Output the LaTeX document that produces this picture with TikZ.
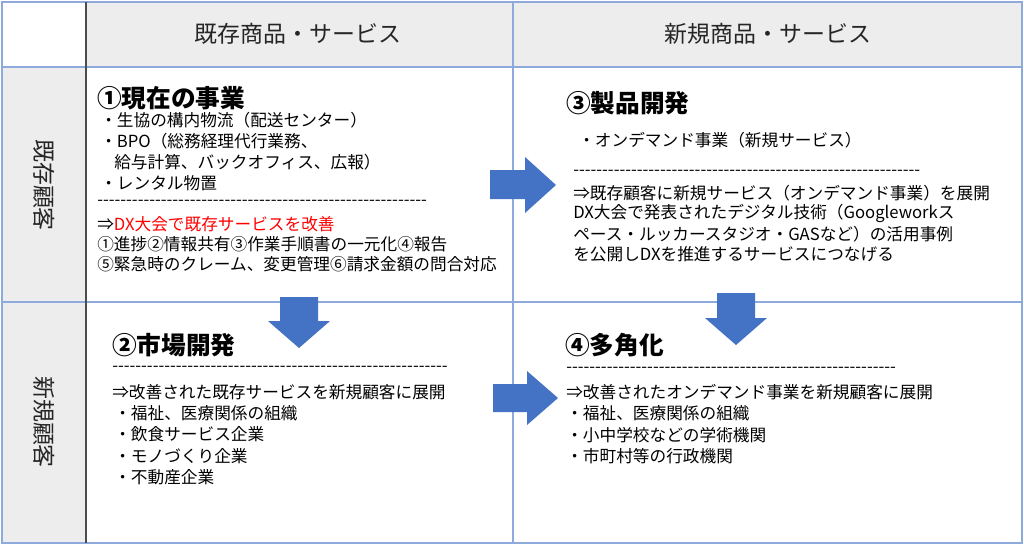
\documentclass[tikz,border=0pt]{standalone}
\usepackage{fontspec}
\setmainfont{Noto Sans CJK JP}[Ligatures=TeXOff]
\definecolor{bl}{HTML}{4472C4}
\definecolor{gr}{HTML}{EDEDED}
\definecolor{ln}{HTML}{8EA9DB}
\begin{document}
\begin{tikzpicture}[x=0.75pt,y=-0.75pt,
  txt/.style={anchor=west,inner sep=0pt,font=\fontsize{12.5}{14}\selectfont},
  ttl/.style={anchor=west,inner sep=0pt,font=\fontsize{18.5}{21}\selectfont\bfseries},
  hdr/.style={inner sep=0pt,font=\fontsize{17.2}{20}\selectfont,text=black!85},
  arr/.style={fill=bl,draw=none}]
\useasboundingbox (0,0) rectangle (1024,546);
\fill[white] (0,0) rectangle (1024,546);
\fill[gr] (86,2) rectangle (1022,67);
\fill[gr] (2,67) rectangle (86,543);
\draw[ln,line width=0.8pt] (2,2) rectangle (1022,543);
\draw[ln,line width=0.8pt] (2,67) -- (1022,67);
\draw[ln,line width=0.8pt] (2,302) -- (1022,302);
\draw[ln,line width=0.8pt] (513,2) -- (513,543);
\draw[black!70,line width=0.8pt] (86,2) -- (86,543);
\node[hdr] (h1) at (298,34) {既存商品・サービス};
\node[hdr] (h2) at (768,34) {新規商品・サービス};
\node[hdr,rotate=-90] (v1) at (44,185) {既存顧客};
\node[hdr,rotate=-90] (v2) at (44,422) {新規顧客};
% arrows
\path[arr] (490,170) -- (525,170) -- (525,157) -- (556,185) -- (525,213) -- (525,199) -- (490,199) -- cycle;
\path[arr] (493,384) -- (527,384) -- (527,371) -- (558,398) -- (527,425) -- (527,412) -- (493,412) -- cycle;
\path[arr] (280,297) -- (318,297) -- (318,321) -- (330,321) -- (299,348) -- (268,321) -- (280,321) -- cycle;
\path[arr] (717,293) -- (755,293) -- (755,318) -- (767,318) -- (736,345) -- (705,318) -- (717,318) -- cycle;
% Q1
\node[ttl] (t1) at (97,98) {①現在の事業};
\node[txt] (a1) at (100,120) {・生協の構内物流（配送センター）};
\node[txt] (a2) at (100,141) {・BPO（総務経理代行業務、};
\node[txt] (a3) at (114,162) {給与計算、バックオフィス、広報）};
\node[txt] (a4) at (100,183) {・レンタル物置};
\node[txt] (a5) at (97,203) {---------------------------------------------------------};
\node[txt,text=red] (a6) at (97,224) {\textcolor{black}{⇒}DX大会で既存サービスを改善};
\node[txt] (a7) at (97,244) {①進捗②情報共有③作業手順書の一元化④報告};
\node[txt] (a8) at (97,264) {⑤緊急時のクレーム、変更管理⑥請求金額の問合対応};
% Q3
\node[ttl] (t3) at (566,103) {③製品開発};
\node[txt] (c1) at (578,140) {・オンデマンド事業（新規サービス）};
\node[txt] (c2) at (573,173) {------------------------------------------------------------};
\node[txt] (c3) at (573,193) {⇒既存顧客に新規サービス（オンデマンド事業）を展開};
\node[txt] (c4) at (573,213) {DX大会で発表されたデジタル技術（Googleworkス};
\node[txt] (c5) at (573,234) {ペース・ルッカースタジオ・GASなど）の活用事例};
\node[txt] (c6) at (573,254) {を公開しDXを推進するサービスにつなげる};
% Q2
\node[ttl] (t2) at (112,345) {②市場開発};
\node[txt] (b1) at (112,369) {----------------------------------------------------------};
\node[txt] (b2) at (112,392) {⇒改善された既存サービスを新規顧客に展開};
\node[txt] (b3) at (114,413) {・福祉、医療関係の組織};
\node[txt] (b4) at (114,434) {・飲食サービス企業};
\node[txt] (b5) at (114,456) {・モノづくり企業};
\node[txt] (b6) at (114,477) {・不動産企業};
% Q4
\node[ttl] (t4) at (565,345) {④多角化};
\node[txt] (d1) at (566,370) {---------------------------------------------------------};
\node[txt] (d2) at (566,392) {⇒改善されたオンデマンド事業を新規顧客に展開};
\node[txt] (d3) at (566,413) {・福祉、医療関係の組織};
\node[txt] (d4) at (566,435) {・小中学校などの学術機関};
\node[txt] (d5) at (566,456) {・市町村等の行政機関};
\end{tikzpicture}
\end{document}
